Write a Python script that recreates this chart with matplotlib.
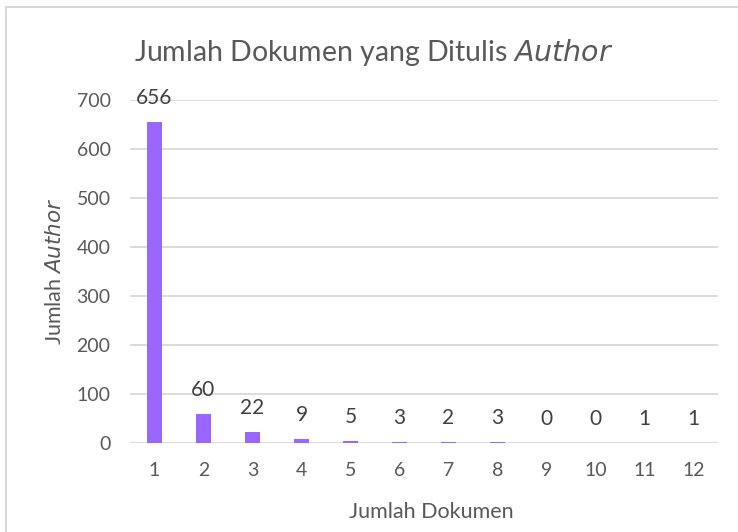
import matplotlib.pyplot as plt
from matplotlib.patches import Rectangle

plt.rcParams['font.family'] = ['Lato', 'DejaVu Sans']

# data
jumlah_dokumen = ['1', '2', '3', '4', '5', '6', '7', '8', '9', '10', '11', '12']
jumlah_author = [656, 60, 22, 9, 5, 3, 2, 3, 0, 0, 1, 1]
y_ticks = [0, 100, 200, 300, 400, 500, 600, 700]

bar_color = '#9966ff'
text_color = '#595959'
label_color = '#404040'
grid_color = '#d9d9d9'

fig = plt.figure(figsize=(7.38, 5.32), dpi=100)
ax = fig.add_axes([130 / 738, 1 - 443 / 532, 588 / 738, 343 / 532])

x = list(range(1, len(jumlah_dokumen) + 1))
ax.bar(x, jumlah_author, width=0.31, color=bar_color, zorder=3)

# label angka di atas bar
for xi, v in zip(x, jumlah_author):
    ax.annotate(str(v), (xi, v), xytext=(0, 10), textcoords='offset points',
                ha='center', va='bottom', fontsize=15, color=label_color)

ax.set_xlim(0.5, 12.5)
ax.set_ylim(0, 700)
ax.set_yticks(y_ticks)
ax.set_xticks(x)
ax.set_xticklabels(jumlah_dokumen)
ax.tick_params(axis='both', length=0, labelsize=14, colors=text_color)
ax.tick_params(axis='y', pad=14)
ax.tick_params(axis='x', pad=14)
ax.grid(axis='y', color=grid_color, linewidth=1.3, zorder=0)
for s in ax.spines.values():
    s.set_visible(False)

ax.set_xlabel('Jumlah Dokumen', fontsize=15.5, color=text_color)
ax.xaxis.set_label_coords(0.512, -0.201)
ax.xaxis.label.set_va('center')
ax.set_ylabel('Jumlah $\\it{Author}$', fontsize=15.5, color=text_color)
ax.yaxis.set_label_coords(-0.128, 0.5)
ax.yaxis.label.set_va('center')

fig.text(374 / 738, 1 - 52 / 532, 'Jumlah Dokumen yang Ditulis $\\it{Author}$',
         ha='center', va='center', fontsize=20.5, color=text_color)

# garis tepi chart
fig.patches.append(Rectangle((6 / 738, -0.1), 1.2, 1 - 7 / 532 + 0.1, transform=fig.transFigure,
                             fill=False, edgecolor=grid_color, linewidth=1.5))

fig.savefig('out.png', dpi=100)
